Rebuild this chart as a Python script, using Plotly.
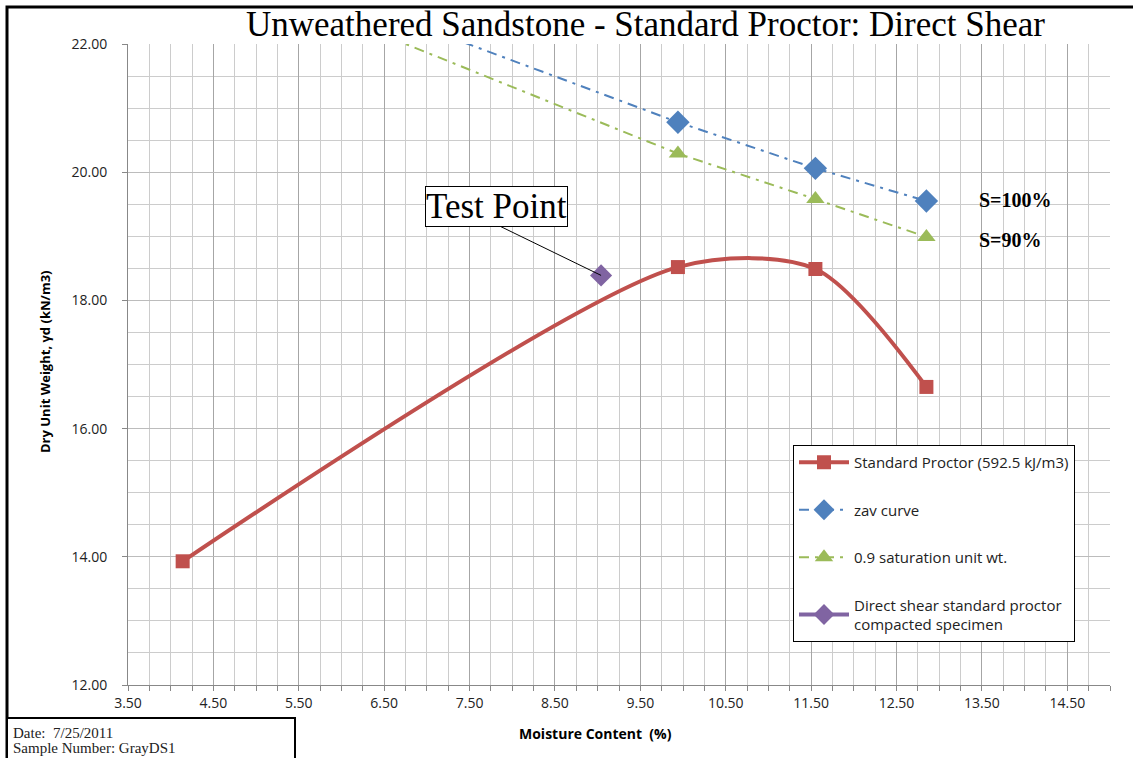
import plotly.graph_objects as go

# ---- data ----
moisture = [4.14, 9.94, 11.55, 12.85]
proctor = [13.93, 18.52, 18.49, 16.65]
zav = [23.66, 20.78, 20.06, 19.55]
sat90 = [23.40, 20.29, 19.58, 18.99]
test_x = [9.04]
test_y = [18.39]

x_ticks = [3.5 + i for i in range(12)]
y_ticks = [12, 14, 16, 18, 20, 22]

RED = "#C0504D"
BLUE = "#4F81BD"
GREEN = "#9BBB59"
PURPLE = "#8064A2"
SANS = "'Open Sans', Lato, sans-serif"
SERIF = "'Liberation Serif', 'DejaVu Serif', serif"

fig = go.Figure()
fig.add_trace(go.Scatter(
    x=moisture, y=proctor, mode="lines+markers", name="Standard Proctor (592.5 kJ/m3)",
    line=dict(color=RED, width=4, shape="spline", smoothing=0.8),
    marker=dict(symbol="square", size=14, color=RED), legendgroup="a"))
fig.add_trace(go.Scatter(
    x=moisture, y=zav, mode="lines+markers", name="zav curve",
    line=dict(color=BLUE, width=2, dash="10px,6px,3px,6px"),
    marker=dict(symbol="diamond", size=18, color=BLUE), legendgroup="b"))
fig.add_trace(go.Scatter(
    x=moisture, y=sat90, mode="lines+markers", name="0.9 saturation unit wt.",
    line=dict(color=GREEN, width=2, dash="10px,6px,3px,6px"),
    marker=dict(symbol="triangle-up", size=16, color=GREEN), legendgroup="c"))
fig.add_trace(go.Scatter(
    x=test_x, y=test_y, mode="lines+markers", name="Direct shear standard proctor<br>compacted specimen",
    line=dict(color=PURPLE, width=4),
    marker=dict(symbol="diamond", size=17, color=PURPLE), legendgroup="d"))

L, R, T, B = 128, 23, 44, 73
W, H = 1133, 758
pw = W - L - R
ph = H - T - B

def px(x):
    return (x - L) / pw

def py(y):
    return (H - B - y) / ph

# Test Point label placement (data coordinates)
label_x, label_y = 7.82, 19.46
leader_x, leader_y = 7.775, 19.21

shapes = [
    dict(type="rect", xref="paper", yref="paper", x0=px(7), x1=px(1150), y0=py(7), y1=py(770),
         line=dict(color="black", width=3), layer="above"),
    dict(type="rect", xref="paper", yref="paper", x0=px(7), x1=px(295), y0=py(718), y1=py(770),
         line=dict(color="black", width=2), fillcolor="white", layer="above"),
    dict(type="line", xref="x", yref="y", x0=leader_x, y0=leader_y, x1=test_x[0], y1=test_y[0],
         line=dict(color="black", width=1)),
]

annotations = [
    dict(text="Unweathered Sandstone - Standard Proctor: Direct Shear", xref="paper", yref="paper",
         x=px(645), y=py(24), showarrow=False, font=dict(family=SERIF, size=35, color="black"),
         xanchor="center", yanchor="middle"),
    dict(text="Dry Unit Weight, γd (kN/m3)", xref="paper", yref="paper", x=px(45), y=py(362),
         textangle=-90, showarrow=False, font=dict(family=SANS, size=13, color="black", weight="bold"),
         xanchor="center", yanchor="middle"),
    dict(text="Moisture Content  (%)", xref="paper", yref="paper", x=px(595), y=py(733),
         showarrow=False, font=dict(family=SANS, size=14, color="black", weight="bold"),
         xanchor="center", yanchor="middle"),
    dict(text="Date:  7/25/2011", xref="paper", yref="paper", x=px(11), y=py(733),
         showarrow=False, align="left", font=dict(family=SERIF, size=15, color="#222"),
         xanchor="left", yanchor="middle"),
    dict(text="Sample Number: GrayDS1", xref="paper", yref="paper", x=px(11), y=py(748),
         showarrow=False, align="left", font=dict(family=SERIF, size=15, color="#222"),
         xanchor="left", yanchor="middle"),
    dict(text="Test Point", x=label_x, y=label_y, showarrow=False,
         font=dict(family=SERIF, size=35, color="black"),
         bordercolor="black", borderwidth=1, borderpad=0, bgcolor="white"),
    dict(text="<b>S=100%</b>", x=13.89, y=19.56, showarrow=False,
         font=dict(family=SERIF, size=20, color="black")),
    dict(text="<b>S=90%</b>", x=13.84, y=18.95, showarrow=False,
         font=dict(family=SERIF, size=20, color="black")),
]

fig.update_layout(
    width=W, height=H, margin=dict(l=L, r=R, t=T, b=B),
    paper_bgcolor="white", plot_bgcolor="white",
    shapes=shapes, annotations=annotations,
    legend=dict(x=px(793), y=py(445), xanchor="left", yanchor="top",
                bgcolor="white", bordercolor="black", borderwidth=1,
                font=dict(family=SANS, size=15, color="#222"),
                tracegroupgap=25, itemwidth=50),
    xaxis=dict(range=[3.5, 15.0], tickvals=x_ticks, ticktext=[f"{v:.2f}" for v in x_ticks],
               showgrid=True, gridcolor="#a6a6a6", gridwidth=1,
               minor=dict(dtick=0.25, tick0=3.5, showgrid=True, gridcolor="#cccccc", ticks="outside",
                          ticklen=5, tickcolor="#888"),
               ticks="outside", ticklen=5, tickcolor="#888",
               showline=True, linecolor="#888", linewidth=1, zeroline=False,
               tickfont=dict(family=SANS, size=14, color="#222")),
    yaxis=dict(range=[12, 22], tickvals=y_ticks, ticktext=[f"{v:.2f}" for v in y_ticks],
               showgrid=True, gridcolor="#bcbcbc", gridwidth=1,
               minor=dict(dtick=0.5, tick0=12, showgrid=True, gridcolor="#cccccc"),
               ticks="outside", ticklen=5, tickcolor="#888",
               showline=True, linecolor="#888", linewidth=1, zeroline=False,
               ticklabelstandoff=12,
               tickfont=dict(family=SANS, size=14, color="#222")),
)

fig.write_html("out.html")
